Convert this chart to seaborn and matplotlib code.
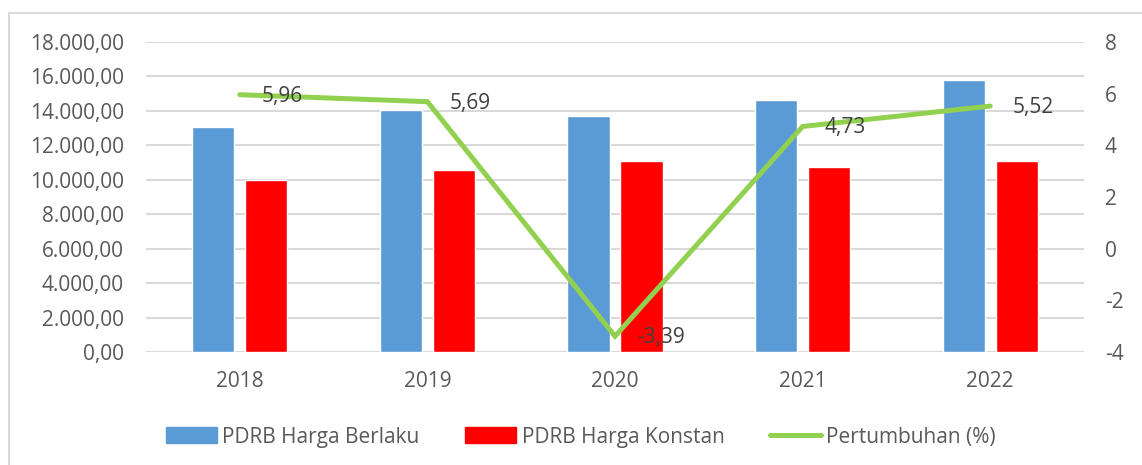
import matplotlib
matplotlib.use("Agg")
import matplotlib.pyplot as plt
from matplotlib.ticker import FuncFormatter, MultipleLocator
from matplotlib.lines import Line2D
from matplotlib.patches import Patch
import numpy as np
import pandas as pd
import seaborn as sns

# data
years = ["2018", "2019", "2020", "2021", "2022"]
harga_berlaku = [13065, 14075, 13726, 14655, 15776]
harga_konstan = [10010, 10590, 11113, 10725, 11073]
pertumbuhan = [5.96, 5.69, -3.39, 4.73, 5.52]

blue = "#5b9bd5"
red = "#ff0000"
green = "#92d050"
txt = "#595959"

df = pd.DataFrame({
    "Tahun": years * 2,
    "Nilai": harga_berlaku + harga_konstan,
    "Seri": ["PDRB Harga Berlaku"] * 5 + ["PDRB Harga Konstan"] * 5,
})

sns.set_style("white")
plt.rcParams["font.family"] = ["Open Sans", "DejaVu Sans"]
plt.rcParams["axes.unicode_minus"] = False

fig = plt.figure(figsize=(11.42, 4.65), dpi=100)
ax = fig.add_axes([146 / 1142, 1 - 352 / 465, 938 / 1142, 310 / 465])

sns.barplot(data=df, x="Tahun", y="Nilai", hue="Seri", palette=[blue, red],
            saturation=1, width=0.565, gap=0.207, ax=ax, legend=False, errorbar=None)

ax.set_ylim(0, 18000)
ax.set_xlim(-0.5, 4.5)
ax.yaxis.set_major_locator(MultipleLocator(2000))
fmt = lambda v, p: f"{v:,.2f}".replace(",", "X").replace(".", ",").replace("X", ".")
ax.yaxis.set_major_formatter(FuncFormatter(fmt))
ax.grid(axis="y", color="#d9d9d9", lw=1.5)
ax.set_axisbelow(True)
ax.set_xlabel("")
ax.set_ylabel("")
for s in ax.spines.values():
    s.set_visible(False)
ax.tick_params(axis="y", length=0, pad=16, labelsize=15, labelcolor=txt)
ax.tick_params(axis="x", length=0, pad=14, labelsize=15, labelcolor=txt)

ax2 = ax.twinx()
sns.lineplot(x=np.arange(len(years)), y=pertumbuhan, color=green, lw=3.6,
             ax=ax2, solid_capstyle="round", solid_joinstyle="miter")
ax2.set_ylim(-4, 8)
ax2.yaxis.set_major_locator(MultipleLocator(2))
for s in ax2.spines.values():
    s.set_visible(False)
ax2.tick_params(axis="y", length=0, pad=15, labelsize=15, labelcolor=txt)
ax2.set_xlim(-0.5, 4.5)

for i, v in enumerate(pertumbuhan):
    ax2.annotate(f"{v:.2f}".replace(".", ","), (i, v), xytext=(16, -1),
                 textcoords="offset points", ha="left", va="center",
                 fontsize=15, color="#404040")

handles = [Patch(color=blue), Patch(color=red),
           Line2D([], [], color=green, lw=3.6, solid_capstyle="round")]
labels = ["PDRB Harga Berlaku", "PDRB Harga Konstan", "Pertumbuhan (%)"]
leg = fig.legend(handles, labels, loc="center", bbox_to_anchor=(581 / 1142, 1 - 437 / 465),
                 ncol=3, frameon=False, fontsize=15, handlelength=2.45, handleheight=0.8,
                 handletextpad=0.25, columnspacing=2.2)
for t in leg.get_texts():
    t.set_color(txt)

# outer chart frame (top and left edges visible in the crop)
fig.add_artist(Line2D([9 / 1142, 1], [1 - 13 / 465, 1 - 13 / 465], color="#d9d9d9", lw=1.5))
fig.add_artist(Line2D([9 / 1142, 9 / 1142], [0, 1 - 13 / 465], color="#d9d9d9", lw=1.5))

fig.savefig("out.png", dpi=100)
